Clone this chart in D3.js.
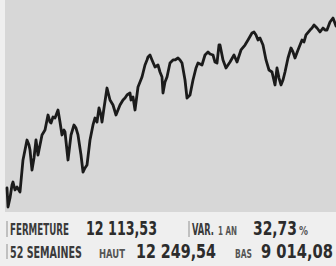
<!DOCTYPE html>
<html>
<head>
<meta charset="utf-8">
<script src="https://cdn.jsdelivr.net/npm/d3@7"></script>
<style>
	html, body { margin: 0; padding: 0; background: #eeeeee; }
	svg { display: block; }
</style>
</head>
<body>
<div id="chart"></div>
<script>
// seances depuis le debut de la fenetre (52 semaines)
var jours = [0,1,3,5,6,8,10,13,16,18,20,22,23,25,27,29,31,33,35,38,40,41,43,44,46,48,51,53,55,57,58,61,64,67,69,71,74,76,78,80,83,86,88,90,92,94,95,97,100,103,106,109,111,113,116,118,120,123,124,126,128,131,135,138,140,141,143,145,148,151,153,155,156,158,160,163,166,168,171,173,175,178,180,183,186,189,191,195,198,201,203,206,208,210,212,213,216,219,223,227,230,234,238,241,245,247,249,251,253,256,259,262,265,268,270,272,274,276,278,281,284,286,288,291,295,297,299,303,305,307,310,313,316,318,320,323,326,329]
var valeurs = [9339,9014,9168,9391,9442,9305,9356,9271,9819,9990,10161,10075,9990,9647,9853,10161,9904,10075,10247,10332,10503,10589,10469,10452,10555,10538,10675,10469,10247,10332,10298,9819,10247,10418,10366,10247,9904,9613,9682,9733,10161,10418,10538,10469,10709,10589,10469,10709,11051,10846,10760,10589,10675,10760,10846,10880,10931,10966,10846,10897,10675,11068,11240,11445,11531,11582,11616,11531,11411,11445,11325,11240,10966,11154,11240,11479,11531,11531,11565,11531,11479,11188,10880,10931,11188,11394,11479,11445,11616,11668,11633,11616,11496,11479,11787,11787,11531,11394,11496,11616,11496,11702,11787,11873,11993,12010,11959,11873,11907,11787,11531,11359,11325,11103,11394,11222,11103,11188,11325,11565,11736,11668,11565,11702,11873,11839,11959,12044,12078,12130,12078,12010,12078,12044,12044,12181,12249.54,12113.53]

var basAn = 9014.08
var hautAn = 12249.54

// textes du bandeau
var ligne1 = [
	{ t: "FERMETURE", type: "label", x0: 10, x1: 69 },
	{ t: "12 113,53", type: "num", x0: 86, x1: 157 },
	{ t: "VAR.", type: "label", x0: 192, x1: 214 },
	{ t: "1 AN", type: "petit", x0: 218, x1: 237 },
	{ t: "32,73", type: "num", x0: 253, x1: 297 },
	{ t: "%", type: "petit", x0: 299, x1: 308 }
]
var ligne2 = [
	{ t: "52 SEMAINES", type: "label", x0: 10, x1: 82 },
	{ t: "HAUT", type: "petit", x0: 99, x1: 125 },
	{ t: "12 249,54", type: "num", x0: 136, x1: 216 },
	{ t: "BAS", type: "petit", x0: 235, x1: 252 },
	{ t: "9 014,08", type: "num", x0: 261, x1: 333 }
]
var barres = [7, 189, 7]

var width = 336
var height = 266

var svg = d3.select('#chart').append('svg')
	.attr('width', width)
	.attr('height', height)

svg.append('rect')
	.attr('width', width).attr('height', height)
	.attr('fill', '#efefef')

// fond gris du graphique
svg.append('rect')
	.attr('x', 5).attr('y', 0)
	.attr('width', width - 5).attr('height', 212)
	.attr('fill', '#d7d7d7')

var x = d3.scaleLinear()
	.domain([0, 329])
	.range([7, 336])

var y = d3.scaleLinear()
	.domain([basAn, hautAn])
	.range([207, 18])

var line = d3.line()
	.x(function(d, i) { return x(jours[i]) })
	.y(function(d) { return y(d) })

svg.append('path')
	.datum(valeurs)
	.attr('d', line)
	.attr('fill', 'none')
	.attr('stroke', '#1b1b1b')
	.attr('stroke-width', 2.8)
	.attr('stroke-linejoin', 'round')
	.attr('stroke-linecap', 'round')

// styles du texte (police etroite, ecrasee ensuite a la largeur voulue)
var narrow = '"Liberation Sans Narrow", "DejaVu Sans Condensed", sans-serif'
var styles = {
	label: { size: 16, fill: '#3a3a3a' },
	petit: { size: 12.5, fill: '#555555' },
	num: { size: 20, fill: '#2c2c2c' }
}

function drawRow(items, baseline) {
	svg.selectAll(null)
		.data(items)
		.enter().append('text')
			.attr('x', 0)
			.attr('y', 0)
			.style('font-family', narrow)
			.style('font-size', function(d) { return styles[d.type].size + 'px' })
			.style('font-weight', 'bold')
			.attr('fill', function(d) { return styles[d.type].fill })
			.text(function(d) { return d.t })
			.attr('transform', function(d) {
				var w = this.getComputedTextLength()
				var sx = (d.x1 - d.x0) / w
				return 'translate(' + d.x0 + ',' + baseline + ') scale(' + sx + ',1)'
			})
}

drawRow(ligne1, 235)
drawRow(ligne2, 258)

// petits traits verticaux
svg.selectAll(null)
	.data(barres)
	.enter().append('line')
		.attr('x1', function(d) { return d })
		.attr('x2', function(d) { return d })
		.attr('y1', function(d, i) { return i == 2 ? 244 : 221 })
		.attr('y2', function(d, i) { return i == 2 ? 259 : 237 })
		.attr('stroke', '#a0a0a0')
		.attr('stroke-width', 1.2)
</script>
</body>
</html>
